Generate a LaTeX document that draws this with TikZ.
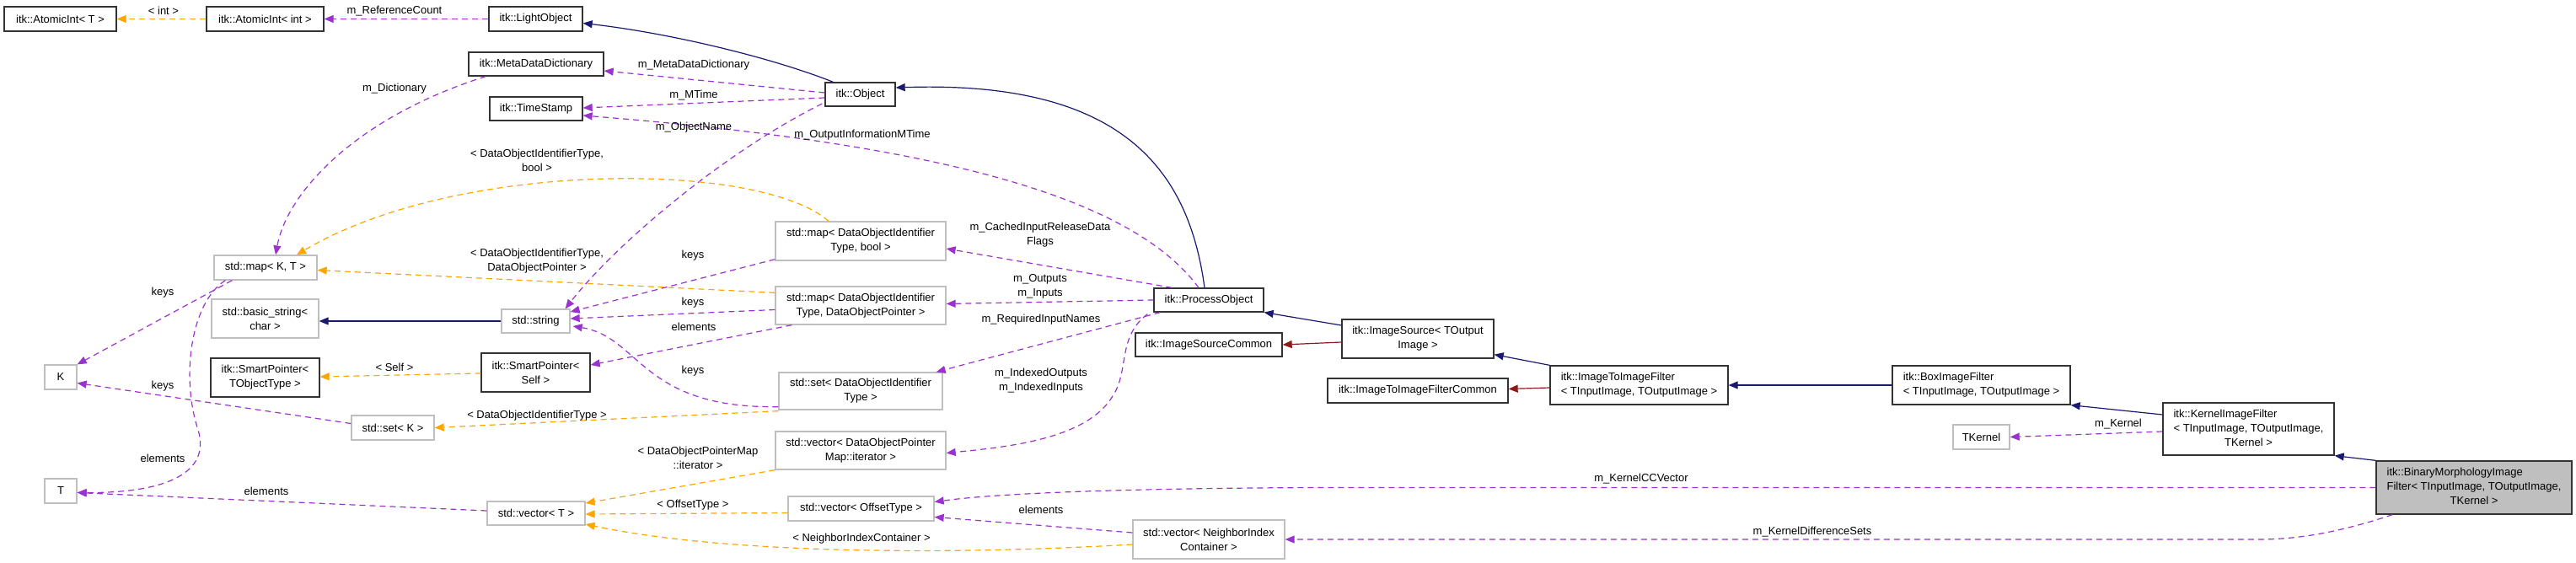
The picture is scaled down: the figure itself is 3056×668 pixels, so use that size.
\documentclass[tikz,border=0pt]{standalone}
\usepackage{fontspec}
\setmainfont{Liberation Sans}
\usetikzlibrary{arrows.meta}
\definecolor{navy}{HTML}{191970}
\definecolor{dred}{HTML}{8B1A1A}
\definecolor{purp}{HTML}{9A32CD}
\definecolor{orng}{HTML}{FFA500}
\definecolor{gbox}{HTML}{BFBFBF}
\newcommand\bx[7]{\node[#1,minimum width={(#5-#3)*1pt},minimum height={(#6-#4)*1pt}] (#2) at ({(#3+#5)/2},{(#4+#6)/2}) {#7};}
\begin{document}
\begin{tikzpicture}[x=1pt,y=-1pt,
  every node/.style={font=\fontsize{13}{17}\selectfont,inner sep=0pt,align=center},
  doc/.style={draw=black!80,line width=1.3pt,fill=white},
  und/.style={draw=gbox,line width=1.3pt,fill=white},
  lbl/.style={fill=none},
  tip/.style={-{Triangle[length=11pt,width=9pt]}},
  inh/.style={draw=navy,line width=1.2pt,tip},
  priv/.style={draw=dred,line width=1.2pt,tip},
  use/.style={draw=purp,line width=1.2pt,dash pattern=on 7pt off 5pt,tip},
  tmpl/.style={draw=orng,line width=1.2pt,dash pattern=on 7pt off 5pt,tip}]
\useasboundingbox (0,0) rectangle (3056,668);
% nodes
\bx{doc}{aiT}{5}{8}{138}{37}{itk::AtomicInt< T >}
\bx{doc}{aii}{245}{8}{384}{37}{itk::AtomicInt< int >}
\bx{doc}{lo}{580}{8}{691}{37}{itk::LightObject}
\bx{doc}{mdd}{556}{62}{716}{90}{itk::MetaDataDictionary}
\bx{doc}{ts}{581}{115}{691}{143}{itk::TimeStamp}
\bx{doc}{obj}{979}{98}{1062}{126}{itk::Object}
\bx{und}{mapKT}{254}{303}{376}{332}{std::map< K, T >}
\bx{und}{bstr}{251}{355}{378}{401}{std::basic\_string<\\char >}
\bx{und}{str}{595}{367}{676}{395}{std::string}
\bx{doc}{spT}{250}{425}{379}{471}{itk::SmartPointer<\\TObjectType >}
\bx{doc}{spS}{571}{419}{700}{465}{itk::SmartPointer<\\Self >}
\bx{und}{K}{53}{433}{91}{462}{K}
\bx{und}{setK}{417}{493}{515}{522}{std::set< K >}
\bx{und}{T}{53}{568}{91}{597}{T}
\bx{und}{vecT}{578}{595}{694}{623}{std::vector< T >}
\bx{und}{mapB}{920}{263}{1122}{309}{std::map< DataObjectIdentifier\\Type, bool >}
\bx{und}{mapD}{920}{340}{1122}{385}{std::map< DataObjectIdentifier\\Type, DataObjectPointer >}
\bx{und}{setD}{924}{442}{1118}{486}{std::set< DataObjectIdentifier\\Type >}
\bx{und}{vecD}{920}{512}{1122}{557}{std::vector< DataObjectPointer\\Map::iterator >}
\bx{und}{vecO}{935}{589}{1108}{618}{std::vector< OffsetType >}
\bx{und}{nic}{1344}{617}{1524}{663}{std::vector< NeighborIndex\\Container >}
\bx{doc}{po}{1369}{342}{1499}{370}{itk::ProcessObject}
\bx{doc}{isc}{1347}{395}{1521}{423}{itk::ImageSourceCommon}
\bx{doc}{is}{1592}{379}{1772}{425}{itk::ImageSource< TOutput\\Image >}
\bx{doc}{iifc}{1575}{449}{1789}{478}{itk::ImageToImageFilterCommon}
\bx{doc}{iif}{1839}{434}{2050}{480}{\begin{tabular}{@{}l@{}}itk::ImageToImageFilter\\< TInputImage, TOutputImage >\end{tabular}}
\bx{doc}{box}{2245}{434}{2456}{480}{\begin{tabular}{@{}l@{}}itk::BoxImageFilter\\< TInputImage, TOutputImage >\end{tabular}}
\bx{und}{tk}{2317}{504}{2384}{533}{TKernel}
\bx{doc}{kif}{2566}{478}{2769}{540}{\begin{tabular}{@{}l@{}}itk::KernelImageFilter\\< TInputImage, TOutputImage,\\\multicolumn{1}{@{}c@{}}{TKernel >}\end{tabular}}
\node[draw=black!80,line width=1.3pt,fill=gbox,minimum width=232pt,minimum height=63pt] (bin) at (2935,578.5) {\begin{tabular}{@{}l@{}}itk::BinaryMorphologyImage\\Filter< TInputImage, TOutputImage,\\\multicolumn{1}{@{}c@{}}{TKernel >}\end{tabular}};
% edges
\draw[tmpl] (aii.west) -- (aiT.east);
\draw[use] (lo.west) -- (aii.east);
\draw[inh] ([shift={(10,0)}]obj.north west) .. controls (920,70) and (800,40) .. ([shift={(0,5)}]lo.east);
\draw[use] ([shift={(0,-2)}]obj.west) -- ([shift={(0,8)}]mdd.east);
\draw[use] ([shift={(0,4)}]obj.west) -- ([shift={(0,-1)}]ts.east);
\draw[use] ([shift={(-12,0)}]po.north) .. controls (1340,230) and (1100,170) .. ([shift={(0,8)}]ts.east);
\draw[use] ([shift={(-3,11)}]obj.west) .. controls (860,180) and (730,290) .. ([shift={(-6,0)}]str.north east);
\draw[use] ([shift={(21,0)}]mdd.south west) .. controls (420,140) and (340,230) .. ([shift={(12,0)}]mapKT.north);
\draw[tmpl] ([shift={(-38,0)}]mapB.north) .. controls (900,190) and (540,190) .. ([shift={(37,0)}]mapKT.north);
\draw[tmpl] ([shift={(0,8)}]mapD.north west) -- ([shift={(0,3)}]mapKT.east);
\draw[use] ([shift={(22,0)}]mapKT.south west) -- (K.north east);
\draw[use] ([shift={(14,0)}]mapKT.south west) .. controls (225,360) and (215,450) .. (235,510) .. controls (250,560) and (200,585) .. ([shift={(0,2)}]T.east);
\draw[inh] ([shift={(0,0)}]str.west) -- ([shift={(0,3)}]bstr.east);
\draw[use] ([shift={(0,-2)}]mapB.south west) -- ([shift={(0,-11)}]str.east);
\draw[use] ([shift={(0,5)}]mapD.west) -- ([shift={(0,-3)}]str.east);
\draw[use] ([shift={(20,0)}]mapD.south west) -- ([shift={(0,-9)}]spS.east);
\draw[tmpl] ([shift={(0,1)}]spS.west) -- ([shift={(0,-1)}]spT.east);
\draw[use] ([shift={(0,-4)}]setD.south west) .. controls (760,485) and (760,400) .. ([shift={(3,6)}]str.east);
\draw[tmpl] ([shift={(0,1)}]setD.south west) -- ([shift={(0,0)}]setK.east);
\draw[use] ([shift={(0,-5)}]setK.west) -- ([shift={(0,7)}]K.east);
\draw[use] ([shift={(22,0)}]po.north west) -- ([shift={(0,9)}]mapB.east);
\draw[use] ([shift={(0,0)}]po.west) -- ([shift={(0,-2)}]mapD.east);
\draw[use] ([shift={(8,0)}]po.south west) -- ([shift={(-8,0)}]setD.north east);
\draw[use] ([shift={(-7,2)}]po.south west) .. controls (1325,400) and (1340,440) .. (1320,470) .. controls (1290,520) and (1200,530) .. ([shift={(0,3)}]vecD.east);
\draw[inh] ([shift={(-5,0)}]po.north) .. controls (1410,200) and (1330,95) .. ([shift={(0,-8)}]obj.east);
\draw[inh] ([shift={(0,-16)}]is.west) -- ([shift={(0,0)}]po.south east);
\draw[priv] ([shift={(0,4)}]is.west) -- ([shift={(0,0)}]isc.east);
\draw[inh] (iif.north west) -- ([shift={(0,-5)}]is.south east);
\draw[priv] ([shift={(0,3)}]iif.west) -- ([shift={(0,-2)}]iifc.east);
\draw[inh] (box.west) -- (iif.east);
\draw[inh] ([shift={(0,-17)}]kif.west) -- (box.south east);
\draw[use] ([shift={(0,3)}]kif.west) -- (tk.east);
\draw[inh] (bin.north west) -- (kif.south east);
\draw[use] (bin.west) -- (1600,578.5) .. controls (1400,578.5) and (1200,583) .. ([shift={(0,-8)}]vecO.east);
\draw[use] ([shift={(20,0)}]bin.south west) .. controls (2780,630) and (2730,640) .. (2680,640) -- (nic.east);
\draw[use] ([shift={(0,-8)}]nic.west) -- ([shift={(0,10)}]vecO.east);
\draw[tmpl] ([shift={(0,0)}]vecD.south west) -- ([shift={(0,-12)}]vecT.east);
\draw[tmpl] ([shift={(0,5)}]vecO.west) -- ([shift={(0,1)}]vecT.east);
\draw[tmpl] ([shift={(0,6)}]nic.west) .. controls (1100,660) and (850,655) .. ([shift={(0,13)}]vecT.east);
\draw[use] ([shift={(0,-3)}]vecT.west) -- ([shift={(0,2)}]T.east);
% labels
\node[lbl] (l1) at (194,13) {< int >};
\node[lbl] (l2) at (468,13) {m\_ReferenceCount};
\node[lbl] (l3) at (468,105) {m\_Dictionary};
\node[lbl] (l4) at (823,77) {m\_MetaDataDictionary};
\node[lbl] (l5) at (823,113) {m\_MTime};
\node[lbl] (l6) at (823,151) {m\_ObjectName};
\node[lbl] (l7) at (1023,160) {m\_OutputInformationMTime};
\node[lbl] (l8) at (637,190) {< DataObjectIdentifierType,\\bool >};
\node[lbl] (l9) at (637,310) {< DataObjectIdentifierType,\\DataObjectPointer >};
\node[lbl] (l10) at (822,303) {keys};
\node[lbl] (l11) at (822,359) {keys};
\node[lbl] (l12) at (823,388) {elements};
\node[lbl] (l13) at (822,440) {keys};
\node[lbl] (l14) at (1234,279) {m\_CachedInputReleaseData\\Flags};
\node[lbl] (l15) at (1234,340) {m\_Outputs\\m\_Inputs};
\node[lbl] (l16) at (1235,379) {m\_RequiredInputNames};
\node[lbl] (l17) at (1235,452) {m\_IndexedOutputs\\m\_IndexedInputs};
\node[lbl] (l18) at (193,347) {keys};
\node[lbl] (l19) at (193,458) {keys};
\node[lbl] (l20) at (193,544) {elements};
\node[lbl] (l21) at (316,583) {elements};
\node[lbl] (l22) at (468,436) {< Self >};
\node[lbl] (l23) at (637,493) {< DataObjectIdentifierType >};
\node[lbl] (l24) at (828,543) {< DataObjectPointerMap\\::iterator >};
\node[lbl] (l25) at (822,599) {< OffsetType >};
\node[lbl] (l26) at (1235,605) {elements};
\node[lbl] (l27) at (1022,639) {< NeighborIndexContainer >};
\node[lbl] (l28) at (1947,568) {m\_KernelCCVector};
\node[lbl] (l29) at (2150,631) {m\_KernelDifferenceSets};
\node[lbl] (l30) at (2513,503) {m\_Kernel};
\end{tikzpicture}
\end{document}
